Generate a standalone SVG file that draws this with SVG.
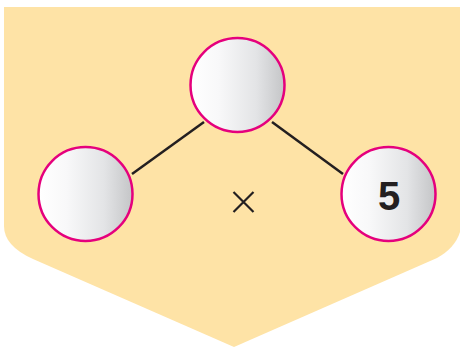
<svg xmlns="http://www.w3.org/2000/svg" width="460" height="349" viewBox="0 0 460 349">
<defs>
<linearGradient id="g" x1="0" y1="0" x2="1" y2="0">
<stop offset="0" stop-color="#ffffff"/>
<stop offset="0.3" stop-color="#f8f8f9"/>
<stop offset="0.7" stop-color="#e3e4e6"/>
<stop offset="1" stop-color="#c4c5c7"/>
</linearGradient>
<style>
.node{fill:url(#g);stroke:#e5007d;stroke-width:2.5}
.edge{stroke:#231f20;stroke-width:2.5;fill:none}
.lbl{font-family:"Liberation Sans",Arial,sans-serif;font-weight:bold;font-size:40px;fill:#231f20;text-anchor:middle}
</style>
</defs>
<rect width="460" height="349" fill="#ffffff"/>
<path d="M4,7 H460 V232 Q455,248 437,258 L234,347 L33,259 Q4,246 4,226 Z" fill="#fee3a6"/>
<g id="connectors">
<line class="edge" x1="132" y1="174" x2="204" y2="122"/>
<line class="edge" x1="272" y1="122" x2="343" y2="174"/>
</g>
<g id="top"><circle class="node" cx="237.5" cy="85" r="47"/></g>
<g id="left"><circle class="node" cx="85.5" cy="194" r="47"/></g>
<g id="right"><circle class="node" cx="388.5" cy="194" r="47"/><text class="lbl" x="389" y="209.5">5</text></g>
<g id="times"><path d="M233.5,192 L253.5,212 M253.5,192 L233.5,212" stroke="#231f20" stroke-width="2.2" fill="none"/></g>
</svg>
